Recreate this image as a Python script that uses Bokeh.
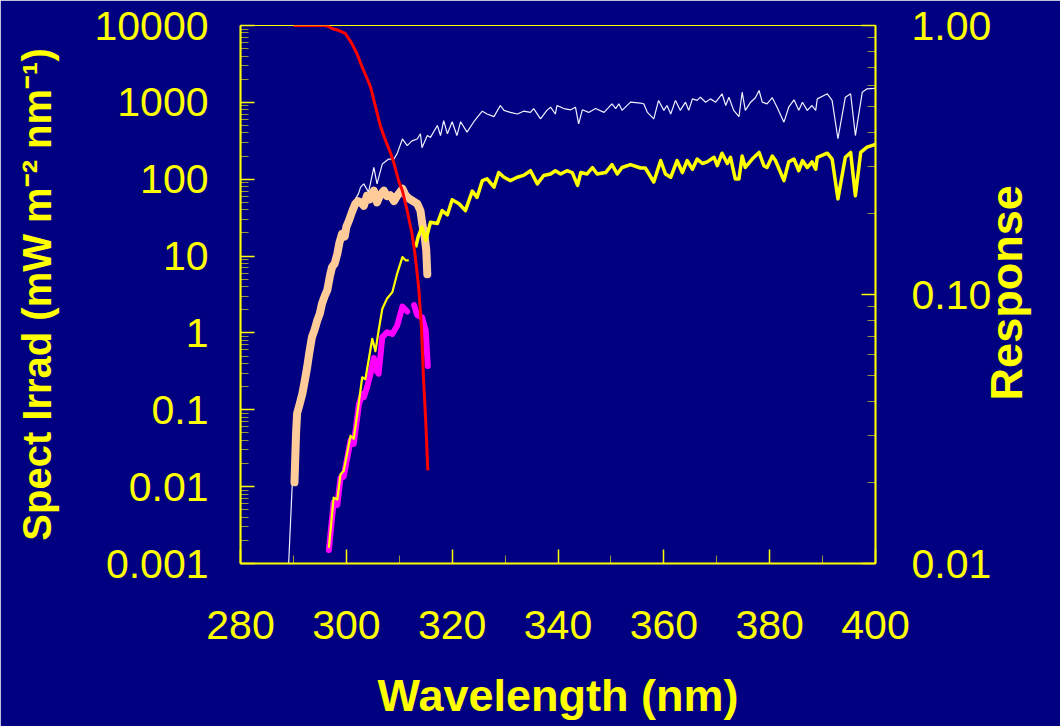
import math
from bokeh.plotting import figure
from bokeh.models import Range1d, LogScale, LogAxis, FixedTicker, CustomJSTickFormatter, PrintfTickFormatter
from bokeh.embed import file_html
from bokeh.resources import INLINE

# ---------------- data ----------------
# total spectral irradiance (thin white), left axis
wl_white = [289.1, 289.8, 290.5, 291.2, 292.2, 293.0, 294.0, 295.0, 295.9, 296.9, 297.8, 298.7,
            299.7, 300.5, 301.1, 301.7, 302.3, 302.7, 303.3, 304.2, 305.2, 305.8, 306.8, 308.0,
            309.0, 309.6, 310.6, 311.5, 312.4, 313.4, 314.0, 314.3, 315.3, 315.9, 317.2, 317.8,
            318.4, 319.1, 320.0, 320.9, 321.6, 322.8, 324.1, 325.0, 325.7, 326.6, 327.9, 329.1,
            329.8, 331.0, 332.3, 333.5, 334.8, 335.4, 336.7, 337.9, 338.6, 339.5, 339.8, 341.1,
            342.4, 343.3, 343.9, 344.6, 345.8, 347.1, 348.7, 350.2, 350.9, 351.5, 352.1, 353.7,
            355.6, 356.2, 356.9, 358.1, 359.0, 360.0, 360.6, 361.3, 362.2, 363.1, 364.1, 364.7,
            365.4, 366.3, 366.9, 367.9, 368.8, 369.8, 371.0, 371.7, 372.3, 373.2, 374.2, 374.8,
            375.4, 376.4, 377.3, 378.0, 378.6, 379.5, 380.5, 381.4, 382.7, 383.6, 384.6, 385.5,
            386.2, 387.1, 388.0, 388.7, 389.0, 390.9, 391.8, 392.9, 394.3, 395.3, 396.2, 397.5,
            398.4, 399.7, 400.0]
irr_white = [0.001, 0.0116, 0.06, 0.14, 0.29, 0.63, 1.25, 2.1, 3.4, 6.3, 9.2, 17,
             21, 33, 44, 55, 65, 79, 87, 68, 143, 87, 158, 183,
             183, 215, 334, 273, 315, 334, 390, 257, 370, 350, 500, 370,
             580, 390, 560, 370, 560, 410, 560, 670, 767, 705, 652, 910,
             787, 740, 705, 767, 740, 830, 610, 787, 865, 705, 910, 830,
             800, 865, 525, 800, 740, 830, 740, 957, 830, 957, 787, 1005,
             980, 957, 740, 610, 1060, 787, 910, 705, 1060, 787, 1005, 787,
             1110, 1060, 1167, 1005, 1110, 1005, 1292, 910, 1167, 787, 650, 1355,
             787, 1005, 1150, 1426, 1005, 957, 1150, 865, 552, 865, 1080, 787,
             1005, 787, 910, 787, 1110, 1292, 1060, 336, 1167, 1292, 370, 1355,
             1500, 1520, 1530]

# filtered irradiance (thick yellow), left axis
wl_yellow = [313.1, 313.6, 314.3, 315.0, 315.9, 317.2, 318.1, 319.1, 320.0, 321.3, 322.5, 323.8,
             324.7, 325.7, 326.6, 327.9, 328.8, 329.8, 331.0, 332.3, 333.5, 334.8, 336.1, 337.3,
             338.6, 339.5, 340.5, 341.7, 342.7, 343.7, 344.3, 345.5, 346.5, 347.4, 349.0, 350.2,
             351.2, 352.1, 353.7, 355.6, 356.5, 358.1, 359.4, 360.3, 361.3, 362.5, 363.5, 364.4,
             365.4, 366.3, 367.3, 368.2, 369.5, 370.1, 371.0, 372.0, 372.6, 373.5, 374.2, 374.8,
             375.4, 376.7, 378.0, 378.9, 379.5, 380.5, 381.1, 382.7, 383.6, 384.6, 385.5, 386.2,
             387.1, 388.0, 388.7, 389.0, 390.9, 391.8, 392.9, 394.3, 395.3, 396.2, 397.2, 398.4,
             399.7, 400.0]
irr_yellow = [13, 18, 23.8, 16, 27.6, 26.5, 39, 34.4, 54, 48, 39, 70,
              58, 96, 101, 79, 122, 106, 96, 106, 112, 129, 87, 112,
              117, 129, 117, 129, 122, 83, 122, 117, 142, 117, 122, 155,
              117, 142, 155, 140, 140, 92, 175, 117, 106, 175, 122, 175,
              135, 183, 160, 168, 193, 150, 218, 160, 193, 101, 101, 200,
              142, 183, 223, 150, 142, 200, 175, 96, 168, 183, 129, 175,
              142, 168, 135, 193, 218, 183, 55.5, 193, 223, 61, 223, 261,
              280, 285]

# weighted irradiance (thick peach), left axis
wl_peach = [290.2, 290.5, 290.7, 291.2, 291.7, 292.2, 292.6, 293.0, 293.5, 294.0, 294.5, 295.0,
            295.4, 295.9, 296.4, 296.9, 297.3, 297.8, 298.3, 298.7, 299.2, 299.7, 300.0, 300.5,
            301.1, 301.7, 302.2, 302.7, 303.3, 303.9, 304.5, 305.2, 305.8, 306.4, 307.1, 307.7,
            308.3, 309.0, 309.7, 310.6, 311.2, 311.8, 312.6, 313.4, 314.0, 314.4, 314.8, 315.1,
            315.3]
irr_peach = [0.0114, 0.05, 0.09, 0.12, 0.163, 0.25, 0.36, 0.55, 0.88, 1.1, 1.45, 1.8,
             2.4, 3.0, 3.6, 5.5, 7.2, 8.0, 10.7, 15, 19.5, 18, 24, 29,
             38, 48, 52, 50, 45, 61, 55, 71, 50, 62, 71, 60,
             62, 52, 62, 75, 62, 56, 52, 48, 39, 25, 18, 12,
             5.8]

# thin yellow curve, left axis
wl_thin = [296.7, 297.6, 298.3, 298.9, 299.5, 300.8, 301.4, 302.4, 303.0, 303.6, 304.9, 305.5,
           306.1, 306.8, 307.7, 308.7, 309.6, 310.6, 311.2, 311.8]
irr_thin = [0.0016, 0.0072, 0.0068, 0.0145, 0.016, 0.046, 0.042, 0.13, 0.265, 0.25, 0.84, 0.58,
            1.07, 2.06, 2.8, 3.4, 5.9, 9.7, 8.8, 8.8]

# magenta curve, left axis (gap near 312 nm)
wl_mag = [296.7, 297.6, 298.3, 298.9, 299.5, 300.8, 301.4, 302.4, 303.0, 303.3, 303.9, 304.6,
          305.2, 305.6, 306.1, 306.8, 307.7, 308.7, 309.6, 310.6, 311.5, 312.1, 312.8, 313.4,
          314.3, 315.0, 315.4]
irr_mag = [0.0015, 0.0062, 0.0058, 0.013, 0.0135, 0.04, 0.036, 0.12, 0.16, 0.145, 0.195, 0.30,
           0.47, 0.33, 0.295, 0.88, 1.02, 0.97, 1.24, 2.2, 1.9, float("nan"), 2.3, 1.7,
           1.6, 1.07, 0.37]

# response curve (red), right axis
wl_resp = [290.0, 292.0, 294.0, 296.0, 296.7, 297.5, 298.5, 299.8, 301.0, 302.0, 303.0, 304.0,
           304.6, 305.5, 306.5, 307.5, 308.5, 309.0, 310.0, 310.6, 311.5, 312.4, 313.0, 313.7,
           314.2, 314.6, 315.0, 315.4]
resp = [1.0, 1.0, 1.0, 1.0, 0.99, 0.97, 0.96, 0.934, 0.86, 0.787, 0.70, 0.63,
        0.589, 0.50, 0.419, 0.37, 0.33, 0.307, 0.26, 0.243, 0.205, 0.169, 0.14, 0.105,
        0.075, 0.048, 0.034, 0.0222]

x_ticks = [280, 300, 320, 340, 360, 380, 400]
left_ticks = [0.001, 0.01, 0.1, 1, 10, 100, 1000, 10000]
right_ticks = [0.01, 0.1, 1.0]
right_title = "Response"

# ---------------- styling ----------------
BG = "#000080"
YEL = "#FFFF00"
FONT = "Liberation Sans"

p = figure(width=1060, height=726, x_range=Range1d(280, 400), y_range=Range1d(0.001, 10000),
           y_axis_type="log", output_backend="svg", toolbar_location=None,
           min_border_left=240, min_border_right=185, min_border_top=25, min_border_bottom=163)
p.background_fill_color = BG
p.border_fill_color = BG
p.outline_line_color = YEL
p.outline_line_width = 1.2
p.xgrid.visible = False
p.ygrid.visible = False

p.extra_y_ranges = {"resp": Range1d(0.01, 1.0)}
p.extra_y_scales = {"resp": LogScale()}

def minor_log(lo_exp, hi_exp):
    return [m * 10.0 ** k for k in range(lo_exp, hi_exp) for m in range(2, 10)]

def style_axis(ax):
    ax.axis_line_color = YEL
    ax.axis_line_width = 2
    ax.major_tick_line_color = YEL
    ax.major_tick_line_width = 1.5
    ax.minor_tick_line_color = YEL
    ax.minor_tick_line_alpha = 0.6
    ax.major_tick_in = 14
    ax.major_tick_out = 0
    ax.minor_tick_in = 8
    ax.minor_tick_out = 0
    ax.major_label_text_color = YEL
    ax.major_label_text_font = FONT
    ax.major_label_text_font_size = "41px"
    ax.axis_label_text_color = YEL
    ax.axis_label_text_font = FONT
    ax.axis_label_text_font_size = "45px"
    ax.axis_label_text_font_style = "bold"

xa = p.xaxis[0]
xa.ticker = FixedTicker(ticks=x_ticks, minor_ticks=[t + 10 for t in x_ticks[:-1]])
xa.axis_label = "Wavelength (nm)"
style_axis(xa)
xa.major_label_standoff = 47
xa.axis_label_standoff = 28

ya = p.yaxis[0]
ya.ticker = FixedTicker(ticks=left_ticks, minor_ticks=minor_log(-3, 4))
ya.formatter = CustomJSTickFormatter(code="return String(Number(tick.toPrecision(6)));")
ya.axis_label = "Spect Irrad (mW m\u207b\u00b2 nm\u207b\u00b9)"
style_axis(ya)
ya.axis_label_text_font_size = "40px"
ya.major_label_standoff = 32
ya.axis_label_standoff = 32

ra = LogAxis(y_range_name="resp", ticker=FixedTicker(ticks=right_ticks, minor_ticks=minor_log(-2, 0)),
             formatter=PrintfTickFormatter(format="%.2f"))
style_axis(ra)
ra.major_label_standoff = 36
p.add_layout(ra, "right")

# title of the right axis, reading bottom to top: an outer, line-less axis whose single
# label starts at the lower end of the title's span (about 0.04 on the response scale)
rt = LogAxis(y_range_name="resp", ticker=FixedTicker(ticks=[0.0404]),
             formatter=CustomJSTickFormatter(code="return %r;" % right_title))
rt.axis_line_color = None
rt.major_tick_line_color = None
rt.minor_tick_line_color = None
rt.major_tick_in = 0
rt.major_tick_out = 0
rt.major_label_orientation = math.pi / 2
rt.major_label_standoff = 12
rt.major_label_text_color = YEL
rt.major_label_text_font = FONT
rt.major_label_text_font_size = "45px"
rt.major_label_text_font_style = "bold"
p.add_layout(rt, "right")

# ---------------- curves ----------------
p.line(wl_white, irr_white, line_color="#F0F0FF", line_width=1.2)
p.line(wl_peach, irr_peach, line_color="#FFCC99", line_width=8, line_join="round", line_cap="round")
p.line(wl_yellow, irr_yellow, line_color=YEL, line_width=3.5, line_join="round")
p.line(wl_mag, irr_mag, line_color="#FF00FF", line_width=6, line_join="round", line_cap="round")
p.line(wl_thin, irr_thin, line_color=YEL, line_width=2.2, line_join="round")
p.line(wl_resp, resp, line_color="#FF0000", line_width=3, y_range_name="resp", line_join="round")

open("out.html", "w").write(file_html(p, INLINE))
